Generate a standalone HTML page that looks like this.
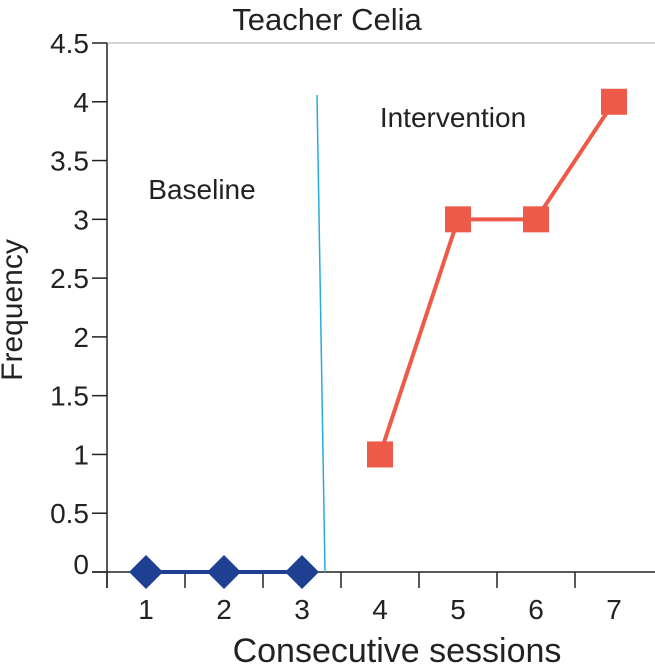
<!DOCTYPE html>
<html><head><meta charset="utf-8"><style>
body{margin:0;background:#fff}
svg text{font-family:"Liberation Sans",sans-serif;fill:#222}
</style></head><body>
<svg id="c" width="655" height="665" xmlns="http://www.w3.org/2000/svg"></svg>
<script>
const categories=[1,2,3,4,5,6,7];
const baseline=[0,0,0];
const intervention=[1,3,3,4];
const yTicks=[0,0.5,1,1.5,2,2.5,3,3.5,4,4.5];
const yTickLabels=["0","0.5","1","1.5","2","2.5","3","3.5","4","4.5"];
const L=107,R=653,T=43,B=572,ymax=4.5;
const bw=(R-L)/categories.length;
const x=i=>L+bw*(i+0.5);
const y=v=>B-(v/ymax)*(B-T);
const s=document.getElementById('c');
const NS='http://www.w3.org/2000/svg';
function mk(t,a,p){const e=document.createElementNS(NS,t);for(const k in a)e.setAttribute(k,a[k]);(p||s).appendChild(e);return e;}
let e;
e=mk('line',{x1:L,y1:T,x2:655,y2:T,stroke:'#aaa','stroke-width':1});


e=mk('line',{x1:L,y1:T,x2:L,y2:B+16,stroke:'#222','stroke-width':1.5});


e=mk('line',{x1:92,y1:B,x2:655,y2:B,stroke:'#222','stroke-width':1.5});


yTicks.forEach((v,i)=>{
  e=mk('line',{x1:92,y1:y(v),x2:L,y2:y(v),stroke:'#222','stroke-width':1.5});
  
  
  e=mk('text',{x:89,y:y(v)+(v===0?2:10),'text-anchor':'end','font-size':28});
  e.textContent=yTickLabels[i];
  
  
});
categories.forEach((c,i)=>{
  e=mk('line',{x1:L+bw*i,y1:B,x2:L+bw*i,y2:B+16,stroke:'#222','stroke-width':1.5});
  
  
  e=mk('text',{x:x(i),y:B+47,'text-anchor':'middle','font-size':28});
  e.textContent=c;
  
  
});
e=mk('line',{x1:317,y1:95,x2:325,y2:B,stroke:'#29a9e0','stroke-width':1.5});


e=mk('polyline',{points:baseline.map((v,i)=>x(i)+','+y(v)).join(' '),fill:'none',stroke:'#1f3f93','stroke-width':4});


baseline.forEach((v,i)=>{
  e=mk('rect',{x:x(i)-12,y:y(v)-12,width:24,height:24,fill:'#1f3f93',transform:`rotate(45 ${x(i)} ${y(v)})`});
  
  
});
const off=baseline.length;
e=mk('polyline',{points:intervention.map((v,i)=>x(i+off)+','+y(v)).join(' '),fill:'none',stroke:'#ee5a4a','stroke-width':4});


intervention.forEach((v,i)=>{
  e=mk('rect',{x:x(i+off)-13,y:y(v)-13,width:26,height:26,fill:'#ee5a4a'});
  
  
});
function txt(t,a,n){e=mk('text',a);e.textContent=t;}
txt('Teacher Celia',{x:327,y:30,'text-anchor':'middle','font-size':31},'chart-title');
txt('Baseline',{x:202,y:199,'text-anchor':'middle','font-size':28},'baseline-label');
txt('Intervention',{x:453,y:127,'text-anchor':'middle','font-size':28},'intervention-label');
txt('Consecutive sessions',{x:397,y:662,'text-anchor':'middle','font-size':34},'x-axis-title');
txt('Frequency',{x:0,y:0,'text-anchor':'middle','font-size':30,transform:'translate(22 310) rotate(-90)'},'y-axis-title');
</script>
</body></html>
